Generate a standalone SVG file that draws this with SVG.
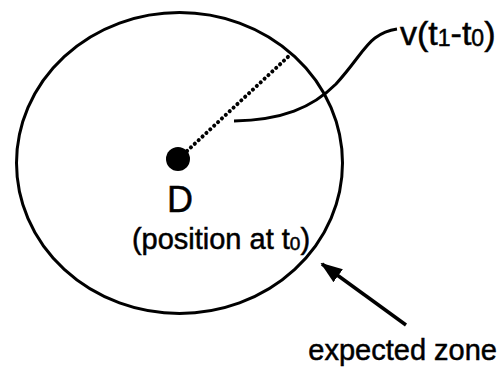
<svg xmlns="http://www.w3.org/2000/svg" width="502" height="370" viewBox="0 0 502 370">
<style>
.t{font-family:"Liberation Sans",Arial,sans-serif;fill:#000;stroke:#000;stroke-width:0.5}
.ln{fill:none;stroke:#000;stroke-width:3}
</style>
<defs>
<marker id="ah" markerWidth="22" markerHeight="16" refX="20" refY="8" orient="auto" markerUnits="userSpaceOnUse">
<path d="M0,0 L22,8 L0,16 Z" fill="#000"/>
</marker>
</defs>
<rect width="502" height="370" fill="#fff"/>
<g id="zone">
<ellipse cx="179.5" cy="163" rx="163" ry="150.5" class="ln"/>
</g>
<g id="D">
<circle cx="178" cy="159" r="12" fill="#000"/>
<text class="t" x="180" y="212" font-size="36" text-anchor="middle">D</text>
<text class="t" x="221" y="249" font-size="29" text-anchor="middle">(position at t<tspan font-size="19" dy="1">0</tspan><tspan dy="-1">)</tspan></text>
</g>
<g id="vlabel">
<text class="t" x="400" y="45" font-size="34">v(t<tspan font-size="23" dy="1">1</tspan><tspan dy="-1">-t</tspan><tspan font-size="23" dy="1">0</tspan><tspan dy="-1">)</tspan></text>
</g>
<g id="exlabel">
<text class="t" x="497" y="360" font-size="29" text-anchor="end">expected zone</text>
</g>
<g id="connectors">
<line x1="187" y1="151" x2="290" y2="55" stroke="#000" stroke-width="4" stroke-dasharray="0.1 5.2" stroke-linecap="round"/>
<path class="ln" d="M234,121 C282,120 312,108 336,84 C356,62 364,46 375,38 C383,32 390,30 397,29"/>
<line x1="406" y1="325" x2="322" y2="264" stroke="#000" stroke-width="3.5" marker-end="url(#ah)"/>
</g>
</svg>
